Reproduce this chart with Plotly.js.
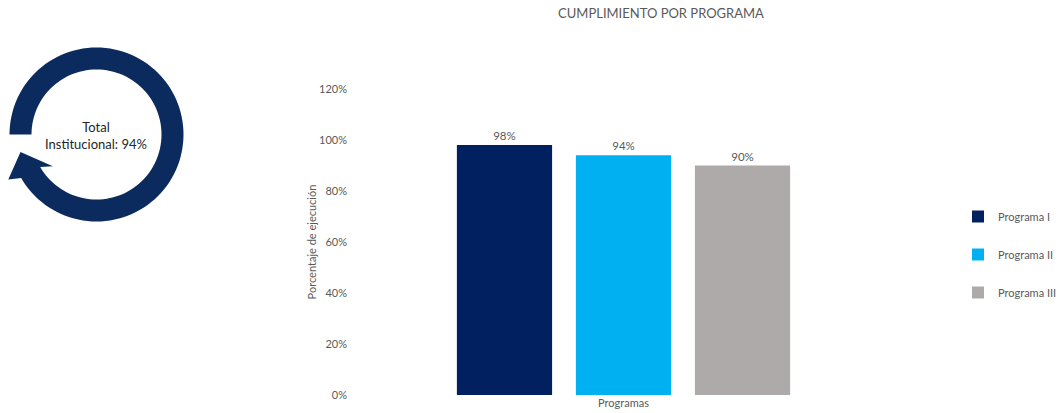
<!DOCTYPE html>
<html>
<head>
<meta charset="utf-8">
<script src="https://cdn.plot.ly/plotly-3.0.1.min.js"></script>
<style>html,body{margin:0;padding:0;background:#fff;}#chart{width:1060px;height:413px;}</style>
</head>
<body>
<div id="chart"></div>
<script>
// ---- data ----
const categories = ["Programas"];
const seriesNames = ["Programa I", "Programa II", "Programa III"];
const seriesValues = [[0.98], [0.94], [0.90]];
const seriesColors = ["#002060", "#00B0F0", "#AEAAAA"];
const yTickVals = [0, 0.2, 0.4, 0.6, 0.8, 1.0, 1.2];
const yTickText = ["0%", "20%", "40%", "60%", "80%", "100%", "120%"];
const totalInstitucional = 0.94;

const W = 1060, H = 413;
const FONT = "Lato, 'Open Sans', sans-serif";
const GREY = "#595959";

// pixel -> paper helpers (margins are zero, so paper == page)
const px = x => x / W;
const py = y => (H - y) / H;

const traces = seriesNames.map((name, i) => ({
  type: "bar",
  name: name,
  x: categories,
  y: seriesValues[i],
  marker: { color: seriesColors[i] },
  text: seriesValues[i].map(v => Math.round(v * 100) + "%"),
  textposition: "outside",
  textfont: { family: FONT, size: 11.5, color: GREY },
  cliponaxis: false,
  legendgroup: "g" + i,
  hoverinfo: "name+y"
}));

// circular arrow decoration (geometry only)
function arrowPath() {
  const cx = 96.5, cy = 134.5, Ro = 87, Ri = 65;
  const a0 = 180, a1 = 510;
  const pts = [];
  const P = (r, deg) => {
    const t = deg * Math.PI / 180;
    return [cx + r * Math.cos(t), cy + r * Math.sin(t)];
  };
  for (let a = a0; a <= a1; a += 3) pts.push(P(Ro, a));
  pts.push(P(Ro, a1));
  pts.push(P(99, a1 + 3));
  pts.push(P(78, 527));
  pts.push(P(54, a1 - 6));
  pts.push(P(Ri, a1));
  for (let a = a1; a >= a0; a -= 3) pts.push(P(Ri, a));
  pts.push(P(Ri, a0));
  return "M " + pts.map(p => px(p[0]).toFixed(5) + "," + py(p[1]).toFixed(5)).join(" L ") + " Z";
}

const layout = {
  width: W, height: H,
  margin: { l: 0, r: 0, t: 0, b: 0, autoexpand: false },
  paper_bgcolor: "#ffffff",
  plot_bgcolor: "#ffffff",
  font: { family: FONT, color: GREY, size: 11 },
  title: {
    text: "CUMPLIMIENTO POR PROGRAMA",
    font: { family: FONT, size: 13, color: GREY },
    x: px(661), xanchor: "center",
    y: py(13), yanchor: "middle",
    xref: "paper", yref: "paper"
  },
  barmode: "group",
  bargap: 0.352,
  bargroupgap: 0.2,
  xaxis: {
    domain: [px(348), px(899)],
    showticklabels: false,
    showline: false, showgrid: false, zeroline: false, ticks: "",
    automargin: false,
    title: { text: "Programas", font: { family: FONT, size: 11, color: GREY }, standoff: 4 }
  },
  yaxis: {
    domain: [py(395), py(89)],
    range: [0, 1.2],
    tickvals: yTickVals,
    ticktext: yTickText,
    tickfont: { family: FONT, size: 11, color: GREY },
    showline: false, showgrid: false, zeroline: false, ticks: "",
    automargin: false,
    title: { text: "Porcentaje de ejecución", font: { family: FONT, size: 11, color: GREY } }
  },
  showlegend: true,
  legend: {
    x: px(958), xanchor: "left",
    y: py(202), yanchor: "top",
    font: { family: FONT, size: 11, color: GREY },
    tracegroupgap: 19,
    itemwidth: 30,
    bgcolor: "rgba(0,0,0,0)"
  },
  shapes: [{
    type: "path",
    xref: "paper", yref: "paper",
    path: arrowPath(),
    fillcolor: "#0B2A5E",
    line: { width: 0 }
  }],
  annotations: [{
    xref: "paper", yref: "paper",
    x: px(96), y: py(135),
    xanchor: "center", yanchor: "middle",
    text: "Total<br>Institucional: " + Math.round(totalInstitucional * 100) + "%",
    showarrow: false,
    font: { family: FONT, size: 13, color: "#262626" }
  }]
};

Plotly.newPlot("chart", traces, layout, { displayModeBar: false, staticPlot: true });
</script>
</body>
</html>
